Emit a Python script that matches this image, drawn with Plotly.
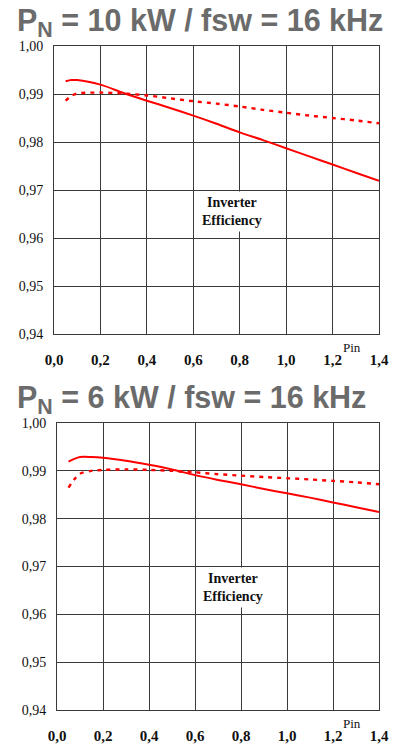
import plotly.graph_objects as go

# ---- data: top chart (PN = 10 kW) ----
pin_top = [0.05, 0.075, 0.1, 0.2, 0.3, 0.4, 0.5, 0.6, 0.7, 0.8, 0.9, 1.0, 1.1, 1.2, 1.3, 1.4]
eff_top_solid = [0.99265, 0.9929, 0.9929, 0.99195, 0.9902, 0.9886, 0.9871, 0.9855, 0.9838,
                 0.9820, 0.9804, 0.9787, 0.9770, 0.9753, 0.9736, 0.9719]
eff_top_dash = [0.9886, 0.9896, 0.9901, 0.9903, 0.9901, 0.9897, 0.9891, 0.9885, 0.9880,
                0.9874, 0.9867, 0.9861, 0.9855, 0.9850, 0.9845, 0.9839]

# ---- data: bottom chart (PN = 6 kW) ----
pin_bot = [0.05, 0.075, 0.1, 0.15, 0.2, 0.3, 0.4, 0.5, 0.6, 0.7, 0.8, 0.9, 1.0, 1.1, 1.2, 1.3, 1.4]
eff_bot_solid = [0.9919, 0.9925, 0.9929, 0.9929, 0.99274, 0.9921, 0.99126, 0.9903, 0.9891,
                 0.9881, 0.9872, 0.9862, 0.9853, 0.9844, 0.9834, 0.9824, 0.9814]
eff_bot_dash = [0.9865, 0.9882, 0.9894, 0.9900, 0.9902, 0.9903, 0.9902, 0.9900, 0.9897,
                0.9893, 0.9890, 0.9887, 0.98846, 0.9882, 0.9879, 0.9876, 0.9872]

x_ticks = [0.0, 0.2, 0.4, 0.6, 0.8, 1.0, 1.2, 1.4]
y_ticks = [0.94, 0.95, 0.96, 0.97, 0.98, 0.99, 1.00]

titles = ["P<sub>N</sub> = 10 kW / fsw = 16 kHz", "P<sub>N</sub> = 6 kW / fsw = 16 kHz"]
note_text = "Inverter<br>Efficiency"
x_title = "Pin"

W, H = 396, 744
RED = "#ff0000"
GRID = "#3a3a3a"
SERIF = "Liberation Serif"

fig = go.Figure()

for i, (px, s, d) in enumerate([(pin_top, eff_top_solid, eff_top_dash),
                                 (pin_bot, eff_bot_solid, eff_bot_dash)]):
    xa = "x" if i == 0 else "x2"
    ya = "y" if i == 0 else "y2"
    fig.add_trace(go.Scatter(x=px, y=s, mode="lines", xaxis=xa, yaxis=ya,
                             line=dict(color=RED, width=2, shape="spline", smoothing=0.8),
                             showlegend=False, hoverinfo="skip"))
    fig.add_trace(go.Scatter(x=px, y=d, mode="lines", xaxis=xa, yaxis=ya,
                             line=dict(color=RED, width=2.4, dash="4px,5px",
                                       shape="spline", smoothing=0.8),
                             showlegend=False, hoverinfo="skip"))

# pixel geometry
top_box = dict(l=54, r=379, t=46, b=334)
bot_box = dict(l=57, r=379, t=423, b=710)

def xdom(b):
    return [b["l"] / W, b["r"] / W]

def ydom(b):
    return [1 - b["b"] / H, 1 - b["t"] / H]

axis_common = dict(showline=True, mirror=True, linecolor=GRID, linewidth=1,
                   showgrid=True, gridcolor=GRID, gridwidth=1, zeroline=False,
                   ticks="", fixedrange=True, automargin=False)

xa_style = dict(axis_common, range=[0, 1.4], tickvals=x_ticks, tickformat=".1f",
                tickfont=dict(family=SERIF, size=15, color="#111", weight="bold"),
                ticklabelstandoff=12)
ya_style = dict(axis_common, range=[0.94, 1.0], tickvals=y_ticks, tickformat=".2f",
                tickfont=dict(family=SERIF, size=14, color="#111"),
                ticklabelstandoff=7)

fig.update_layout(
    template="none",
    width=W, height=H,
    margin=dict(l=0, r=0, t=0, b=0, autoexpand=False),
    paper_bgcolor="white", plot_bgcolor="white",
    separators=", ",
    font=dict(family=SERIF),
    xaxis=dict(xa_style, domain=xdom(top_box), anchor="y"),
    yaxis=dict(ya_style, domain=ydom(top_box), anchor="x"),
    xaxis2=dict(xa_style, domain=xdom(bot_box), anchor="y2"),
    yaxis2=dict(ya_style, domain=ydom(bot_box), anchor="x2"),
)

annotations = []
for i, (ty, box) in enumerate([(23, top_box), (399, bot_box)]):
    annotations.append(dict(text="<b>" + titles[i] + "</b>", xref="paper", yref="paper",
                            x=15 / W, y=1 - ty / H, xanchor="left", yanchor="middle",
                            showarrow=False,
                            font=dict(family="Liberation Sans", size=30.5,
                                      color="#6b6b6b")))
    xr = "x" if i == 0 else "x2"
    yr = "y" if i == 0 else "y2"
    annotations.append(dict(text="<b>" + note_text + "</b>", xref=xr, yref=yr,
                            x=0.765, y=0.9656, xanchor="center", yanchor="middle",
                            showarrow=False, bgcolor="white", borderpad=3,
                            font=dict(family=SERIF, size=14, color="#111")))
    annotations.append(dict(text=x_title, xref=xr, yref=yr + " domain",
                            x=1.284, y=-0.047, xanchor="center", yanchor="middle",
                            showarrow=False,
                            font=dict(family=SERIF, size=13, color="#111")))

fig.update_layout(annotations=annotations)

fig.write_html("out.html",
               config={"displayModeBar": False},
               post_script="document.body.style.margin='0';"
                           "document.body.style.overflow='hidden';")
